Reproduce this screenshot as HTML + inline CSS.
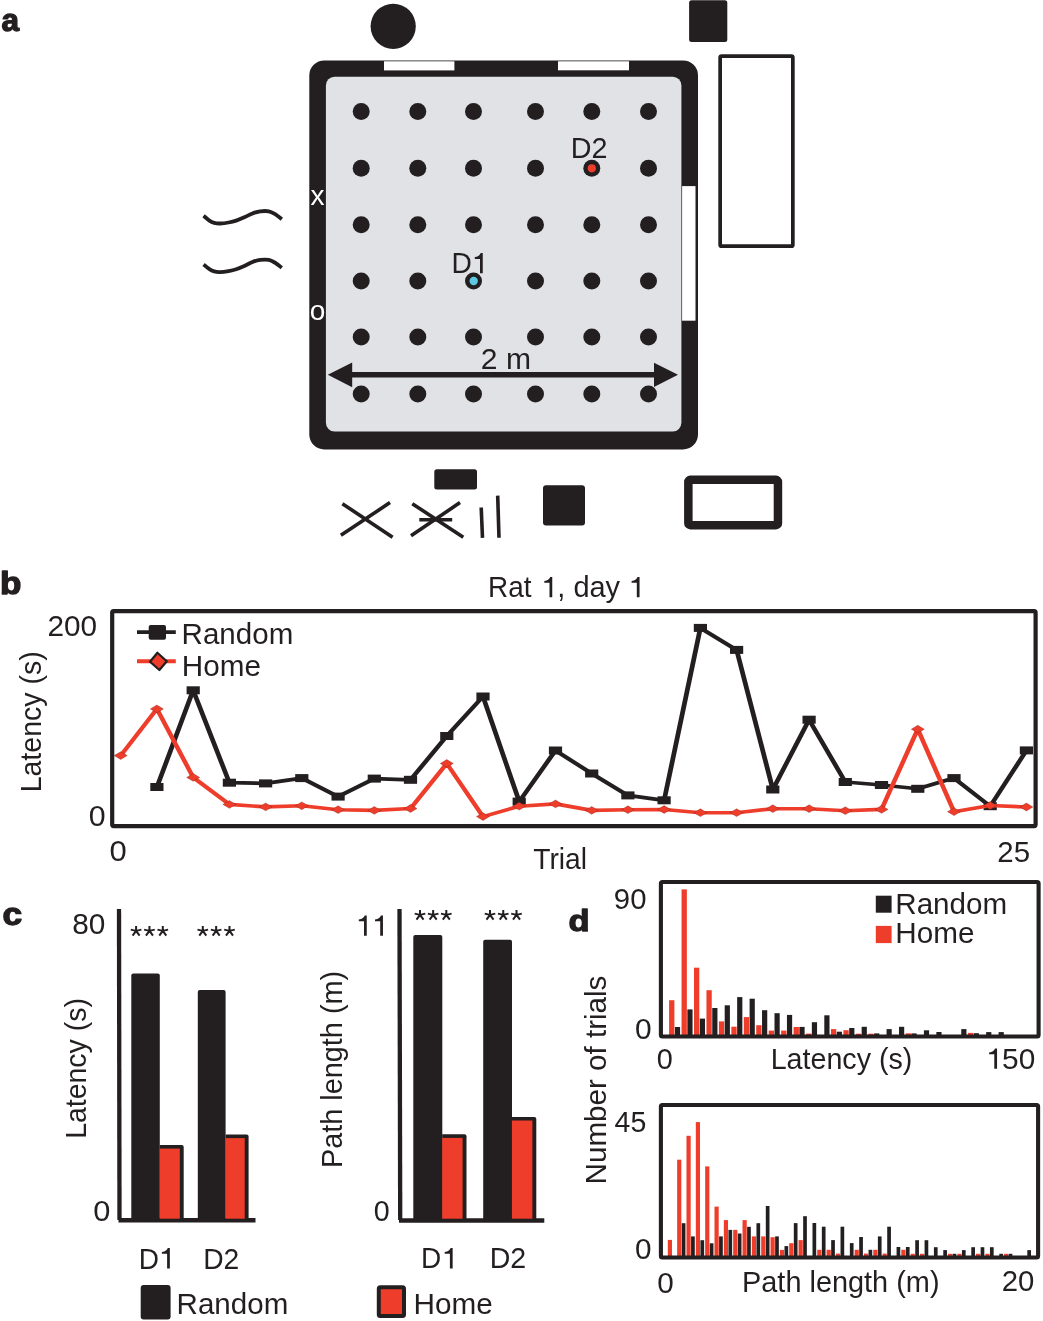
<!DOCTYPE html>
<html><head><meta charset="utf-8"><title>Figure</title>
<style>html,body{margin:0;padding:0;background:#fff;overflow:hidden;}svg{display:block;will-change:transform;}</style></head>
<body><svg width="1043" height="1321" viewBox="0 0 1043 1321" font-family="'Liberation Sans', sans-serif">
<rect width="1043" height="1321" fill="#fff"/>
<text transform="translate(1.40,30.64) scale(1.0282,1)" font-size="30.68" font-weight="bold" fill="#231f20" stroke="#231f20" stroke-width="1.3" stroke-linejoin="round">a</text>
<circle cx="393.2" cy="26.3" r="22.6" fill="#231f20"/>
<rect x="689.1" y="0.3" width="38.2" height="41.8" rx="2.5" fill="#231f20"/>
<rect x="309.3" y="60.4" width="388.7" height="389" rx="15" fill="#231f20"/>
<rect x="325.9" y="76.8" width="355.5" height="354.6" rx="8.6" fill="#e1e2e6"/>
<rect x="384" y="61.3" width="70.4" height="9.1" fill="#fff"/>
<rect x="558" y="61.3" width="71" height="9" fill="#fff"/>
<rect x="682.1" y="186.1" width="13.4" height="134.6" fill="#fff"/>
<circle cx="361.2" cy="111.5" r="8.5" fill="#231f20"/>
<circle cx="417.8" cy="111.5" r="8.5" fill="#231f20"/>
<circle cx="473.5" cy="111.5" r="8.5" fill="#231f20"/>
<circle cx="535.5" cy="111.5" r="8.5" fill="#231f20"/>
<circle cx="591.8" cy="111.5" r="8.5" fill="#231f20"/>
<circle cx="648.5" cy="111.5" r="8.5" fill="#231f20"/>
<circle cx="361.2" cy="168.2" r="8.5" fill="#231f20"/>
<circle cx="417.8" cy="168.2" r="8.5" fill="#231f20"/>
<circle cx="473.5" cy="168.2" r="8.5" fill="#231f20"/>
<circle cx="535.5" cy="168.2" r="8.5" fill="#231f20"/>
<circle cx="591.8" cy="168.2" r="8.5" fill="#231f20"/>
<circle cx="648.5" cy="168.2" r="8.5" fill="#231f20"/>
<circle cx="361.2" cy="224.8" r="8.5" fill="#231f20"/>
<circle cx="417.8" cy="224.8" r="8.5" fill="#231f20"/>
<circle cx="473.5" cy="224.8" r="8.5" fill="#231f20"/>
<circle cx="535.5" cy="224.8" r="8.5" fill="#231f20"/>
<circle cx="591.8" cy="224.8" r="8.5" fill="#231f20"/>
<circle cx="648.5" cy="224.8" r="8.5" fill="#231f20"/>
<circle cx="361.2" cy="280.9" r="8.5" fill="#231f20"/>
<circle cx="417.8" cy="280.9" r="8.5" fill="#231f20"/>
<circle cx="473.5" cy="280.9" r="8.5" fill="#231f20"/>
<circle cx="535.5" cy="280.9" r="8.5" fill="#231f20"/>
<circle cx="591.8" cy="280.9" r="8.5" fill="#231f20"/>
<circle cx="648.5" cy="280.9" r="8.5" fill="#231f20"/>
<circle cx="361.2" cy="337.0" r="8.5" fill="#231f20"/>
<circle cx="417.8" cy="337.0" r="8.5" fill="#231f20"/>
<circle cx="473.5" cy="337.0" r="8.5" fill="#231f20"/>
<circle cx="535.5" cy="337.0" r="8.5" fill="#231f20"/>
<circle cx="591.8" cy="337.0" r="8.5" fill="#231f20"/>
<circle cx="648.5" cy="337.0" r="8.5" fill="#231f20"/>
<circle cx="361.2" cy="393.9" r="8.5" fill="#231f20"/>
<circle cx="417.8" cy="393.9" r="8.5" fill="#231f20"/>
<circle cx="473.5" cy="393.9" r="8.5" fill="#231f20"/>
<circle cx="535.5" cy="393.9" r="8.5" fill="#231f20"/>
<circle cx="591.8" cy="393.9" r="8.5" fill="#231f20"/>
<circle cx="648.5" cy="393.9" r="8.5" fill="#231f20"/>
<circle cx="473.7" cy="281" r="4.2" fill="#5cc8e3"/>
<circle cx="591.8" cy="168.3" r="4.1" fill="#ee3d2a"/>
<text transform="translate(451.47,273.30) scale(0.9458,1)" font-size="29.8" fill="#231f20">D</text>
<path d="M482.75,273.20 L482.75,253.10 L480.70,253.10 C480.20,254.60 478.40,256.60 474.80,257.10 L474.80,259.00 L480.00,259.00 L480.00,273.20 Z" fill="#231f20"/>
<text transform="translate(570.73,158.40) scale(0.9642,1)" font-size="29.8" fill="#231f20">D2</text>
<text x="317.6" y="204.5" font-size="28" text-anchor="middle" fill="#fff">x</text>
<text x="317.6" y="320" font-size="28" text-anchor="middle" fill="#fff">o</text>
<text transform="translate(480.80,368.80) scale(1.0094,1)" font-size="29.8" fill="#231f20">2 m</text>
<line x1="345" y1="374.8" x2="660" y2="374.8" stroke="#231f20" stroke-width="5.4"/>
<polygon points="327.8,374.8 352.2,362.4 352.2,387.2" fill="#231f20"/>
<polygon points="678,374.8 654,362.8 654,387" fill="#231f20"/>
<path d="M203.6,215.8 C204.6,216.6 207.6,219.4 209.4,220.6 C211.2,221.8 212.4,222.3 214.2,222.8 C215.9,223.3 217.5,223.6 219.9,223.5 C222.3,223.4 225.9,223.0 228.6,222.5 C231.3,222.0 233.5,221.5 236.2,220.6 C238.9,219.7 242.2,218.3 244.9,217.1 C247.6,215.9 249.9,214.4 252.5,213.4 C255.1,212.4 257.5,211.7 260.2,211.3 C262.9,211.0 266.2,210.8 268.8,211.3 C271.4,211.8 273.3,213.1 275.5,214.4 C277.7,215.7 280.8,218.4 281.8,219.2" fill="none" stroke="#231f20" stroke-width="3.8"/>
<path d="M203.6,264.4 C204.6,265.2 207.6,268.0 209.4,269.2 C211.2,270.4 212.4,270.9 214.2,271.4 C215.9,271.9 217.5,272.2 219.9,272.1 C222.3,272.1 225.9,271.6 228.6,271.1 C231.3,270.6 233.5,270.1 236.2,269.2 C238.9,268.3 242.2,266.9 244.9,265.7 C247.6,264.5 249.9,263.0 252.5,262.0 C255.1,261.0 257.5,260.2 260.2,259.9 C262.9,259.6 266.2,259.4 268.8,259.9 C271.4,260.4 273.3,261.7 275.5,263.0 C277.7,264.3 280.8,267.0 281.8,267.8" fill="none" stroke="#231f20" stroke-width="3.8"/>
<rect x="720.15" y="56.05" width="72.7" height="190.1" rx="1.5" fill="none" stroke="#231f20" stroke-width="3.7"/>
<rect x="434.3" y="469.2" width="42.7" height="20.2" rx="2.5" fill="#231f20"/>
<rect x="543" y="485.3" width="42" height="40.1" rx="3" fill="#231f20"/>
<rect x="688.35" y="479.85" width="89.6" height="45.3" rx="2" fill="none" stroke="#231f20" stroke-width="8.5"/>
<line x1="342.4" y1="503.7" x2="392.6" y2="537.3" stroke="#231f20" stroke-width="3.6"/>
<line x1="390" y1="502.6" x2="340.9" y2="535.2" stroke="#231f20" stroke-width="3.6"/>
<line x1="412.3" y1="503.7" x2="463.3" y2="537.3" stroke="#231f20" stroke-width="3.6"/>
<line x1="460" y1="502.6" x2="411" y2="535.8" stroke="#231f20" stroke-width="3.6"/>
<line x1="419.3" y1="519.7" x2="452.2" y2="519.7" stroke="#231f20" stroke-width="3.6"/>
<line x1="481.2" y1="507.5" x2="482.5" y2="537.8" stroke="#231f20" stroke-width="3.6"/>
<line x1="497.7" y1="495.6" x2="499" y2="537.8" stroke="#231f20" stroke-width="3.6"/>
<text transform="translate(0.07,593.54) scale(1.1201,1)" font-size="31.29" font-weight="bold" fill="#231f20" stroke="#231f20" stroke-width="1.3" stroke-linejoin="round">b</text>
<text transform="translate(488.10,597.30) scale(0.9368,1)" font-size="29.8" fill="#231f20">Rat</text>
<path d="M552.25,597.30 L552.25,576.90 L550.20,576.90 C549.70,578.40 547.90,580.40 544.30,580.90 L544.30,582.80 L549.50,582.80 L549.50,597.30 Z" fill="#231f20"/>
<text transform="translate(557.29,597.30) scale(0.9719,1)" font-size="29.8" fill="#231f20">, day</text>
<path d="M639.55,597.30 L639.55,576.90 L637.50,576.90 C637.00,578.40 635.20,580.40 631.60,580.90 L631.60,582.80 L636.80,582.80 L636.80,597.30 Z" fill="#231f20"/>
<rect x="112.2" y="611.2" width="923.4" height="214.9" rx="1.5" fill="none" stroke="#231f20" stroke-width="4.2"/>
<text transform="translate(47.51,635.70) scale(0.9982,1)" font-size="29.8" fill="#231f20">200</text>
<text transform="translate(88.79,825.70) scale(1.0190,1)" font-size="29.8" fill="#231f20">0</text>
<text transform="translate(109.56,860.70) scale(1.0401,1)" font-size="29.8" fill="#231f20">0</text>
<text transform="translate(997.28,861.70) scale(0.9870,1)" font-size="29.8" fill="#231f20">25</text>
<text transform="translate(533.26,868.60) scale(0.9472,1)" font-size="29.8" fill="#231f20">Trial</text>
<text transform="translate(40.80,792.35) rotate(-90) scale(0.9571,1)" font-size="29.8" fill="#231f20">Latency (s)</text>
<polyline transform="scale(1.27,1)" points="123.57,787 152.09,690.3 180.62,782.7 209.15,783.4 237.68,778.1 266.20,796.6 294.73,778.6 323.26,779.8 351.79,736 380.31,696.5 408.84,801.6 437.37,750.5 465.90,773.5 494.43,795.4 522.95,800.3 551.48,627.9 580.01,649.9 608.54,789.5 637.06,719.7 665.59,782 694.12,785 722.65,788.75 751.17,778.1 779.70,806.25 808.23,750.4" fill="none" stroke="#231f20" stroke-width="3.75" stroke-linejoin="round"/>
<rect x="150.3" y="783.0" width="13.2" height="8" fill="#231f20"/>
<rect x="186.6" y="686.3" width="13.2" height="8" fill="#231f20"/>
<rect x="222.8" y="778.7" width="13.2" height="8" fill="#231f20"/>
<rect x="259.0" y="779.4" width="13.2" height="8" fill="#231f20"/>
<rect x="295.2" y="774.1" width="13.2" height="8" fill="#231f20"/>
<rect x="331.5" y="792.6" width="13.2" height="8" fill="#231f20"/>
<rect x="367.7" y="774.6" width="13.2" height="8" fill="#231f20"/>
<rect x="403.9" y="775.8" width="13.2" height="8" fill="#231f20"/>
<rect x="440.2" y="732.0" width="13.2" height="8" fill="#231f20"/>
<rect x="476.4" y="692.5" width="13.2" height="8" fill="#231f20"/>
<rect x="512.6" y="797.6" width="13.2" height="8" fill="#231f20"/>
<rect x="548.9" y="746.5" width="13.2" height="8" fill="#231f20"/>
<rect x="585.1" y="769.5" width="13.2" height="8" fill="#231f20"/>
<rect x="621.3" y="791.4" width="13.2" height="8" fill="#231f20"/>
<rect x="657.5" y="796.3" width="13.2" height="8" fill="#231f20"/>
<rect x="693.8" y="623.9" width="13.2" height="8" fill="#231f20"/>
<rect x="730.0" y="645.9" width="13.2" height="8" fill="#231f20"/>
<rect x="766.2" y="785.5" width="13.2" height="8" fill="#231f20"/>
<rect x="802.5" y="715.7" width="13.2" height="8" fill="#231f20"/>
<rect x="838.7" y="778.0" width="13.2" height="8" fill="#231f20"/>
<rect x="874.9" y="781.0" width="13.2" height="8" fill="#231f20"/>
<rect x="911.2" y="784.8" width="13.2" height="8" fill="#231f20"/>
<rect x="947.4" y="774.1" width="13.2" height="8" fill="#231f20"/>
<rect x="983.6" y="802.2" width="13.2" height="8" fill="#231f20"/>
<rect x="1019.8" y="746.4" width="13.2" height="8" fill="#231f20"/>
<polyline transform="scale(1.27,1)" points="95.04,755.6 123.57,708.9 152.09,777.4 180.62,804.4 209.15,806.9 237.68,805.8 266.20,809.7 294.73,810.4 323.26,808.5 351.79,763.5 380.31,816.6 408.84,806.2 437.37,803.9 465.90,810.4 494.43,809.7 522.95,809.5 551.48,812.7 580.01,812.7 608.54,808.7 637.06,808.7 665.59,810.7 694.12,809.4 722.65,729.2 751.17,811.7 779.70,805.5 808.23,807" fill="none" stroke="#ee3d2a" stroke-width="3.65" stroke-linejoin="round"/>
<polygon points="114.2,755.6 120.7,751.7 127.2,755.6 120.7,759.5" fill="#ee3d2a" stroke="#7a1c14" stroke-width="0.5" stroke-opacity="0.7"/>
<polygon points="150.4,708.9 156.9,705.0 163.4,708.9 156.9,712.8" fill="#ee3d2a" stroke="#7a1c14" stroke-width="0.5" stroke-opacity="0.7"/>
<polygon points="186.7,777.4 193.2,773.5 199.7,777.4 193.2,781.3" fill="#ee3d2a" stroke="#7a1c14" stroke-width="0.5" stroke-opacity="0.7"/>
<polygon points="222.9,804.4 229.4,800.5 235.9,804.4 229.4,808.3" fill="#ee3d2a" stroke="#7a1c14" stroke-width="0.5" stroke-opacity="0.7"/>
<polygon points="259.1,806.9 265.6,803.0 272.1,806.9 265.6,810.8" fill="#ee3d2a" stroke="#7a1c14" stroke-width="0.5" stroke-opacity="0.7"/>
<polygon points="295.3,805.8 301.8,801.9 308.3,805.8 301.8,809.6999999999999" fill="#ee3d2a" stroke="#7a1c14" stroke-width="0.5" stroke-opacity="0.7"/>
<polygon points="331.6,809.7 338.1,805.8000000000001 344.6,809.7 338.1,813.6" fill="#ee3d2a" stroke="#7a1c14" stroke-width="0.5" stroke-opacity="0.7"/>
<polygon points="367.8,810.4 374.3,806.5 380.8,810.4 374.3,814.3" fill="#ee3d2a" stroke="#7a1c14" stroke-width="0.5" stroke-opacity="0.7"/>
<polygon points="404.0,808.5 410.5,804.6 417.0,808.5 410.5,812.4" fill="#ee3d2a" stroke="#7a1c14" stroke-width="0.5" stroke-opacity="0.7"/>
<polygon points="440.3,763.5 446.8,759.6 453.3,763.5 446.8,767.4" fill="#ee3d2a" stroke="#7a1c14" stroke-width="0.5" stroke-opacity="0.7"/>
<polygon points="476.5,816.6 483.0,812.7 489.5,816.6 483.0,820.5" fill="#ee3d2a" stroke="#7a1c14" stroke-width="0.5" stroke-opacity="0.7"/>
<polygon points="512.7,806.2 519.2,802.3000000000001 525.7,806.2 519.2,810.1" fill="#ee3d2a" stroke="#7a1c14" stroke-width="0.5" stroke-opacity="0.7"/>
<polygon points="549.0,803.9 555.5,800.0 562.0,803.9 555.5,807.8" fill="#ee3d2a" stroke="#7a1c14" stroke-width="0.5" stroke-opacity="0.7"/>
<polygon points="585.2,810.4 591.7,806.5 598.2,810.4 591.7,814.3" fill="#ee3d2a" stroke="#7a1c14" stroke-width="0.5" stroke-opacity="0.7"/>
<polygon points="621.4,809.7 627.9,805.8000000000001 634.4,809.7 627.9,813.6" fill="#ee3d2a" stroke="#7a1c14" stroke-width="0.5" stroke-opacity="0.7"/>
<polygon points="657.6,809.5 664.1,805.6 670.6,809.5 664.1,813.4" fill="#ee3d2a" stroke="#7a1c14" stroke-width="0.5" stroke-opacity="0.7"/>
<polygon points="693.9,812.7 700.4,808.8000000000001 706.9,812.7 700.4,816.6" fill="#ee3d2a" stroke="#7a1c14" stroke-width="0.5" stroke-opacity="0.7"/>
<polygon points="730.1,812.7 736.6,808.8000000000001 743.1,812.7 736.6,816.6" fill="#ee3d2a" stroke="#7a1c14" stroke-width="0.5" stroke-opacity="0.7"/>
<polygon points="766.3,808.7 772.8,804.8000000000001 779.3,808.7 772.8,812.6" fill="#ee3d2a" stroke="#7a1c14" stroke-width="0.5" stroke-opacity="0.7"/>
<polygon points="802.6,808.7 809.1,804.8000000000001 815.6,808.7 809.1,812.6" fill="#ee3d2a" stroke="#7a1c14" stroke-width="0.5" stroke-opacity="0.7"/>
<polygon points="838.8,810.7 845.3,806.8000000000001 851.8,810.7 845.3,814.6" fill="#ee3d2a" stroke="#7a1c14" stroke-width="0.5" stroke-opacity="0.7"/>
<polygon points="875.0,809.4 881.5,805.5 888.0,809.4 881.5,813.3" fill="#ee3d2a" stroke="#7a1c14" stroke-width="0.5" stroke-opacity="0.7"/>
<polygon points="911.3,729.2 917.8,725.3000000000001 924.3,729.2 917.8,733.1" fill="#ee3d2a" stroke="#7a1c14" stroke-width="0.5" stroke-opacity="0.7"/>
<polygon points="947.5,811.7 954.0,807.8000000000001 960.5,811.7 954.0,815.6" fill="#ee3d2a" stroke="#7a1c14" stroke-width="0.5" stroke-opacity="0.7"/>
<polygon points="983.7,805.5 990.2,801.6 996.7,805.5 990.2,809.4" fill="#ee3d2a" stroke="#7a1c14" stroke-width="0.5" stroke-opacity="0.7"/>
<polygon points="1019.9,807 1026.4,803.1 1032.9,807 1026.4,810.9" fill="#ee3d2a" stroke="#7a1c14" stroke-width="0.5" stroke-opacity="0.7"/>
<line x1="137" y1="632.2" x2="175.8" y2="632.2" stroke="#231f20" stroke-width="3.8"/>
<rect x="148.7" y="625" width="17.3" height="14.7" rx="2" fill="#231f20"/>
<line x1="137" y1="661.3" x2="175.8" y2="661.3" stroke="#ee3d2a" stroke-width="4.1"/>
<polygon points="157.4,652.7 166.8,661.3 159.4,670 150,661.7" fill="#ee3d2a" stroke="#231f20" stroke-width="2.2" stroke-linejoin="round"/>
<text transform="translate(181.56,644.40) scale(0.9922,1)" font-size="29.8" fill="#231f20">Random</text>
<text transform="translate(181.85,676.20) scale(0.9965,1)" font-size="29.8" fill="#231f20">Home</text>
<text transform="translate(2.44,925.04) scale(1.1498,1)" font-size="30.68" font-weight="bold" fill="#231f20" stroke="#231f20" stroke-width="1.3" stroke-linejoin="round">c</text>
<line x1="119" y1="909" x2="119.5" y2="1220" stroke="#231f20" stroke-width="4.3"/>
<line x1="118.5" y1="1220.2" x2="255.5" y2="1220.2" stroke="#231f20" stroke-width="4.5"/>
<rect x="131.3" y="973.4" width="28.5" height="247" rx="2" fill="#231f20"/>
<path d="M159.8,1219 L159.8,1145 L181.7,1145 Q183.7,1145 183.7,1147 L183.7,1219 Z" fill="#231f20"/>
<rect x="159.8" y="1148.60" width="20.00" height="70.10" fill="#ee3d2a"/>
<rect x="197.8" y="990.1" width="27.8" height="230" rx="2" fill="#231f20"/>
<path d="M225.6,1219 L225.6,1134.5 L246.6,1134.5 Q248.6,1134.5 248.6,1136.5 L248.6,1219 Z" fill="#231f20"/>
<rect x="225.6" y="1138.10" width="19.10" height="80.60" fill="#ee3d2a"/>
<path d="M136.10,930.90 L136.10,926.00 M136.10,930.90 L141.40,929.60 M136.10,930.90 L139.60,935.70 M136.10,930.90 L132.60,935.70 M136.10,930.90 L130.80,929.60 " stroke="#231f20" stroke-width="2.0" stroke-linecap="butt" fill="none"/>
<path d="M149.45,930.90 L149.45,926.00 M149.45,930.90 L154.75,929.60 M149.45,930.90 L152.95,935.70 M149.45,930.90 L145.95,935.70 M149.45,930.90 L144.15,929.60 " stroke="#231f20" stroke-width="2.0" stroke-linecap="butt" fill="none"/>
<path d="M162.80,930.90 L162.80,926.00 M162.80,930.90 L168.10,929.60 M162.80,930.90 L166.30,935.70 M162.80,930.90 L159.30,935.70 M162.80,930.90 L157.50,929.60 " stroke="#231f20" stroke-width="2.0" stroke-linecap="butt" fill="none"/>
<path d="M202.80,930.90 L202.80,926.00 M202.80,930.90 L208.10,929.60 M202.80,930.90 L206.30,935.70 M202.80,930.90 L199.30,935.70 M202.80,930.90 L197.50,929.60 " stroke="#231f20" stroke-width="2.0" stroke-linecap="butt" fill="none"/>
<path d="M216.15,930.90 L216.15,926.00 M216.15,930.90 L221.45,929.60 M216.15,930.90 L219.65,935.70 M216.15,930.90 L212.65,935.70 M216.15,930.90 L210.85,929.60 " stroke="#231f20" stroke-width="2.0" stroke-linecap="butt" fill="none"/>
<path d="M229.50,930.90 L229.50,926.00 M229.50,930.90 L234.80,929.60 M229.50,930.90 L233.00,935.70 M229.50,930.90 L226.00,935.70 M229.50,930.90 L224.20,929.60 " stroke="#231f20" stroke-width="2.0" stroke-linecap="butt" fill="none"/>
<text transform="translate(72.13,934.40) scale(1.0002,1)" font-size="29.8" fill="#231f20">80</text>
<text transform="translate(93.17,1220.80) scale(1.0331,1)" font-size="29.8" fill="#231f20">0</text>
<text transform="translate(138.79,1268.50) scale(0.9402,1)" font-size="29.8" fill="#231f20">D</text>
<path d="M169.85,1268.40 L169.85,1247.90 L167.80,1247.90 C167.30,1249.40 165.50,1251.40 161.90,1251.90 L161.90,1253.80 L167.10,1253.80 L167.10,1268.40 Z" fill="#231f20"/>
<text transform="translate(203.17,1268.50) scale(0.9466,1)" font-size="29.8" fill="#231f20">D2</text>
<text transform="translate(85.90,1138.85) rotate(-90) scale(0.9550,1)" font-size="29.8" fill="#231f20">Latency (s)</text>
<rect x="140.7" y="1285" width="29.9" height="34.6" rx="3" fill="#231f20"/>
<text transform="translate(176.56,1314.10) scale(0.9922,1)" font-size="29.8" fill="#231f20">Random</text>
<line x1="399.5" y1="909" x2="400.2" y2="1220" stroke="#231f20" stroke-width="4.3"/>
<line x1="399" y1="1220.4" x2="544.3" y2="1220.4" stroke="#231f20" stroke-width="4.5"/>
<rect x="413.3" y="935.1" width="29" height="285" rx="2" fill="#231f20"/>
<path d="M442.2,1219 L442.2,1134.3 L464.5,1134.3 Q466.5,1134.3 466.5,1136.3 L466.5,1219 Z" fill="#231f20"/>
<rect x="442.2" y="1137.90" width="20.40" height="80.80" fill="#ee3d2a"/>
<rect x="483.2" y="939.7" width="28.8" height="281" rx="2" fill="#231f20"/>
<path d="M511.9,1219 L511.9,1116.9 L534.3,1116.9 Q536.3,1116.9 536.3,1118.9 L536.3,1219 Z" fill="#231f20"/>
<rect x="511.9" y="1120.50" width="20.50" height="98.20" fill="#ee3d2a"/>
<path d="M420.00,914.90 L420.00,910.00 M420.00,914.90 L425.30,913.60 M420.00,914.90 L423.50,919.70 M420.00,914.90 L416.50,919.70 M420.00,914.90 L414.70,913.60 " stroke="#231f20" stroke-width="2.0" stroke-linecap="butt" fill="none"/>
<path d="M433.15,914.90 L433.15,910.00 M433.15,914.90 L438.45,913.60 M433.15,914.90 L436.65,919.70 M433.15,914.90 L429.65,919.70 M433.15,914.90 L427.85,913.60 " stroke="#231f20" stroke-width="2.0" stroke-linecap="butt" fill="none"/>
<path d="M446.30,914.90 L446.30,910.00 M446.30,914.90 L451.60,913.60 M446.30,914.90 L449.80,919.70 M446.30,914.90 L442.80,919.70 M446.30,914.90 L441.00,913.60 " stroke="#231f20" stroke-width="2.0" stroke-linecap="butt" fill="none"/>
<path d="M490.00,914.90 L490.00,910.00 M490.00,914.90 L495.30,913.60 M490.00,914.90 L493.50,919.70 M490.00,914.90 L486.50,919.70 M490.00,914.90 L484.70,913.60 " stroke="#231f20" stroke-width="2.0" stroke-linecap="butt" fill="none"/>
<path d="M503.25,914.90 L503.25,910.00 M503.25,914.90 L508.55,913.60 M503.25,914.90 L506.75,919.70 M503.25,914.90 L499.75,919.70 M503.25,914.90 L497.95,913.60 " stroke="#231f20" stroke-width="2.0" stroke-linecap="butt" fill="none"/>
<path d="M516.50,914.90 L516.50,910.00 M516.50,914.90 L521.80,913.60 M516.50,914.90 L520.00,919.70 M516.50,914.90 L513.00,919.70 M516.50,914.90 L511.20,913.60 " stroke="#231f20" stroke-width="2.0" stroke-linecap="butt" fill="none"/>
<path d="M366.75,935.80 L366.75,915.40 L364.70,915.40 C364.20,916.90 362.40,918.90 358.80,919.40 L358.80,921.30 L364.00,921.30 L364.00,935.80 Z" fill="#231f20"/>
<path d="M382.95,935.80 L382.95,915.40 L380.90,915.40 C380.40,916.90 378.60,918.90 375.00,919.40 L375.00,921.30 L380.20,921.30 L380.20,935.80 Z" fill="#231f20"/>
<text transform="translate(373.65,1221.30) scale(0.9628,1)" font-size="29.8" fill="#231f20">0</text>
<text transform="translate(421.09,1268.20) scale(0.9402,1)" font-size="29.8" fill="#231f20">D</text>
<path d="M452.65,1268.40 L452.65,1247.90 L450.60,1247.90 C450.10,1249.40 448.30,1251.40 444.70,1251.90 L444.70,1253.80 L449.90,1253.80 L449.90,1268.40 Z" fill="#231f20"/>
<text transform="translate(489.64,1268.40) scale(0.9584,1)" font-size="29.8" fill="#231f20">D2</text>
<text transform="translate(342.20,1168.08) rotate(-90) scale(0.9686,1)" font-size="29.8" fill="#231f20">Path length (m)</text>
<rect x="378.8" y="1287.2" width="25.2" height="28.8" fill="#ee3d2a" stroke="#231f20" stroke-width="4" rx="1.5"/>
<text transform="translate(413.45,1314.00) scale(0.9978,1)" font-size="29.8" fill="#231f20">Home</text>
<text transform="translate(568.47,930.95) scale(1.1356,1)" font-size="30.34" font-weight="bold" fill="#231f20" stroke="#231f20" stroke-width="1.3" stroke-linejoin="round">d</text>
<rect x="669.10" y="1000.2" width="5.3" height="35.8" fill="#ee3d2a"/>
<rect x="674.90" y="1027" width="5.2" height="9.0" fill="#231f20"/>
<rect x="681.55" y="889.4" width="5.3" height="146.6" fill="#ee3d2a"/>
<rect x="687.35" y="1009.4" width="5.2" height="26.6" fill="#231f20"/>
<rect x="694.00" y="967.7" width="5.3" height="68.3" fill="#ee3d2a"/>
<rect x="699.80" y="1018.6" width="5.2" height="17.4" fill="#231f20"/>
<rect x="706.45" y="990.2" width="5.3" height="45.8" fill="#ee3d2a"/>
<rect x="712.25" y="1008" width="5.2" height="28.0" fill="#231f20"/>
<rect x="718.90" y="1021.4" width="5.3" height="14.6" fill="#ee3d2a"/>
<rect x="724.70" y="1005.3" width="5.2" height="30.7" fill="#231f20"/>
<rect x="731.35" y="1026.7" width="5.3" height="9.3" fill="#ee3d2a"/>
<rect x="737.15" y="997.1" width="5.2" height="38.9" fill="#231f20"/>
<rect x="743.80" y="1017.1" width="5.3" height="18.9" fill="#ee3d2a"/>
<rect x="749.60" y="998.7" width="5.2" height="37.3" fill="#231f20"/>
<rect x="756.25" y="1025.2" width="5.3" height="10.8" fill="#ee3d2a"/>
<rect x="762.05" y="1010.2" width="5.2" height="25.8" fill="#231f20"/>
<rect x="768.70" y="1030.6" width="5.3" height="5.4" fill="#ee3d2a"/>
<rect x="774.50" y="1013.2" width="5.2" height="22.8" fill="#231f20"/>
<rect x="781.15" y="1030.6" width="5.3" height="5.4" fill="#ee3d2a"/>
<rect x="786.95" y="1014.9" width="5.2" height="21.1" fill="#231f20"/>
<rect x="793.60" y="1027" width="5.3" height="9.0" fill="#ee3d2a"/>
<rect x="799.40" y="1026.9" width="5.2" height="9.1" fill="#231f20"/>
<rect x="806.05" y="1033.6" width="5.3" height="2.4" fill="#ee3d2a"/>
<rect x="811.85" y="1022.2" width="5.2" height="13.8" fill="#231f20"/>
<rect x="824.30" y="1015.3" width="5.2" height="20.7" fill="#231f20"/>
<rect x="830.95" y="1029.1" width="5.3" height="6.9" fill="#ee3d2a"/>
<rect x="836.75" y="1031.7" width="5.2" height="4.3" fill="#231f20"/>
<rect x="843.40" y="1030.2" width="5.3" height="5.8" fill="#ee3d2a"/>
<rect x="849.20" y="1028" width="5.2" height="8.0" fill="#231f20"/>
<rect x="855.85" y="1033.7" width="5.3" height="2.3" fill="#ee3d2a"/>
<rect x="861.65" y="1026.8" width="5.2" height="9.2" fill="#231f20"/>
<rect x="868.30" y="1033.7" width="5.3" height="2.3" fill="#ee3d2a"/>
<rect x="874.10" y="1033.4" width="5.2" height="2.6" fill="#231f20"/>
<rect x="886.55" y="1029.1" width="5.2" height="6.9" fill="#231f20"/>
<rect x="899.00" y="1026.8" width="5.2" height="9.2" fill="#231f20"/>
<rect x="905.65" y="1033.3" width="5.3" height="2.7" fill="#ee3d2a"/>
<rect x="911.45" y="1033.4" width="5.2" height="2.6" fill="#231f20"/>
<rect x="923.90" y="1030.3" width="5.2" height="5.7" fill="#231f20"/>
<rect x="936.35" y="1032" width="5.2" height="4.0" fill="#231f20"/>
<rect x="961.25" y="1029.1" width="5.2" height="6.9" fill="#231f20"/>
<rect x="967.90" y="1032.9" width="5.3" height="3.1" fill="#ee3d2a"/>
<rect x="973.70" y="1033.2" width="5.2" height="2.8" fill="#231f20"/>
<rect x="986.15" y="1032.1" width="5.2" height="3.9" fill="#231f20"/>
<rect x="998.60" y="1032.1" width="5.2" height="3.9" fill="#231f20"/>
<rect x="660.9" y="882" width="377.7" height="154.5" rx="1.5" fill="none" stroke="#231f20" stroke-width="4.1"/>
<text transform="translate(613.81,909.20) scale(0.9854,1)" font-size="29.8" fill="#231f20">90</text>
<text transform="translate(634.90,1038.50) scale(1.0050,1)" font-size="29.8" fill="#231f20">0</text>
<text transform="translate(656.84,1068.50) scale(0.9698,1)" font-size="29.8" fill="#231f20">0</text>
<text transform="translate(770.63,1069.30) scale(0.9620,1)" font-size="29.8" fill="#231f20">Latency (s)</text>
<path d="M997.05,1068.80 L997.05,1048.40 L995.00,1048.40 C994.50,1049.90 992.70,1051.90 989.10,1052.40 L989.10,1054.30 L994.30,1054.30 L994.30,1068.80 Z" fill="#231f20"/>
<text transform="translate(1002.11,1068.70) scale(1.0010,1)" font-size="29.8" fill="#231f20">50</text>
<rect x="875.8" y="895.7" width="15.8" height="17" fill="#231f20"/>
<rect x="875.8" y="925.9" width="15.8" height="17.2" fill="#ee3d2a"/>
<text transform="translate(895.26,913.60) scale(0.9940,1)" font-size="29.8" fill="#231f20">Random</text>
<text transform="translate(895.25,942.80) scale(0.9965,1)" font-size="29.8" fill="#231f20">Home</text>
<rect x="667.80" y="1239.9" width="4.2" height="17.1" fill="#ee3d2a"/>
<rect x="677.14" y="1159.7" width="4.2" height="97.3" fill="#ee3d2a"/>
<rect x="681.74" y="1223.2" width="3.7" height="33.8" fill="#231f20"/>
<rect x="686.48" y="1135.8" width="4.2" height="121.2" fill="#ee3d2a"/>
<rect x="691.08" y="1236.4" width="3.7" height="20.6" fill="#231f20"/>
<rect x="695.82" y="1122.1" width="4.2" height="134.9" fill="#ee3d2a"/>
<rect x="700.42" y="1240.2" width="3.7" height="16.8" fill="#231f20"/>
<rect x="705.16" y="1166.4" width="4.2" height="90.6" fill="#ee3d2a"/>
<rect x="709.76" y="1243.3" width="3.7" height="13.7" fill="#231f20"/>
<rect x="714.50" y="1206.6" width="4.2" height="50.4" fill="#ee3d2a"/>
<rect x="719.10" y="1236.4" width="3.7" height="20.6" fill="#231f20"/>
<rect x="723.84" y="1220.1" width="4.2" height="36.9" fill="#ee3d2a"/>
<rect x="728.44" y="1229.9" width="3.7" height="27.1" fill="#231f20"/>
<rect x="733.18" y="1229.9" width="4.2" height="27.1" fill="#ee3d2a"/>
<rect x="737.78" y="1233.5" width="3.7" height="23.5" fill="#231f20"/>
<rect x="742.52" y="1220.1" width="4.2" height="36.9" fill="#ee3d2a"/>
<rect x="747.12" y="1226.8" width="3.7" height="30.2" fill="#231f20"/>
<rect x="751.86" y="1236.4" width="4.2" height="20.6" fill="#ee3d2a"/>
<rect x="756.46" y="1223.2" width="3.7" height="33.8" fill="#231f20"/>
<rect x="761.20" y="1236.4" width="4.2" height="20.6" fill="#ee3d2a"/>
<rect x="765.80" y="1206" width="3.7" height="51.0" fill="#231f20"/>
<rect x="770.54" y="1237.2" width="4.2" height="19.8" fill="#ee3d2a"/>
<rect x="775.14" y="1236.4" width="3.7" height="20.6" fill="#231f20"/>
<rect x="779.88" y="1249.9" width="4.2" height="7.1" fill="#ee3d2a"/>
<rect x="784.48" y="1246.1" width="3.7" height="10.9" fill="#231f20"/>
<rect x="789.22" y="1243.2" width="4.2" height="13.8" fill="#ee3d2a"/>
<rect x="793.82" y="1223.1" width="3.7" height="33.9" fill="#231f20"/>
<rect x="798.56" y="1240.1" width="4.2" height="16.9" fill="#ee3d2a"/>
<rect x="803.16" y="1216.2" width="3.7" height="40.8" fill="#231f20"/>
<rect x="812.50" y="1223" width="3.7" height="34.0" fill="#231f20"/>
<rect x="817.24" y="1249.8" width="4.2" height="7.2" fill="#ee3d2a"/>
<rect x="821.84" y="1226.7" width="3.7" height="30.3" fill="#231f20"/>
<rect x="826.58" y="1249.8" width="4.2" height="7.2" fill="#ee3d2a"/>
<rect x="831.18" y="1240.1" width="3.7" height="16.9" fill="#231f20"/>
<rect x="835.92" y="1253.6" width="4.2" height="3.4" fill="#ee3d2a"/>
<rect x="840.52" y="1226.7" width="3.7" height="30.3" fill="#231f20"/>
<rect x="849.86" y="1243.1" width="3.7" height="13.9" fill="#231f20"/>
<rect x="854.60" y="1249.8" width="4.2" height="7.2" fill="#ee3d2a"/>
<rect x="859.20" y="1237" width="3.7" height="20.0" fill="#231f20"/>
<rect x="863.94" y="1253.6" width="4.2" height="3.4" fill="#ee3d2a"/>
<rect x="868.54" y="1249.8" width="3.7" height="7.2" fill="#231f20"/>
<rect x="873.28" y="1249.8" width="4.2" height="7.2" fill="#ee3d2a"/>
<rect x="877.88" y="1236.4" width="3.7" height="20.6" fill="#231f20"/>
<rect x="882.62" y="1253.6" width="4.2" height="3.4" fill="#ee3d2a"/>
<rect x="887.22" y="1226.7" width="3.7" height="30.3" fill="#231f20"/>
<rect x="896.56" y="1247" width="3.7" height="10.0" fill="#231f20"/>
<rect x="901.30" y="1249.8" width="4.2" height="7.2" fill="#ee3d2a"/>
<rect x="905.90" y="1247" width="3.7" height="10.0" fill="#231f20"/>
<rect x="910.64" y="1253.8" width="4.2" height="3.2" fill="#ee3d2a"/>
<rect x="915.24" y="1240.2" width="3.7" height="16.8" fill="#231f20"/>
<rect x="919.98" y="1253.8" width="4.2" height="3.2" fill="#ee3d2a"/>
<rect x="924.58" y="1240.2" width="3.7" height="16.8" fill="#231f20"/>
<rect x="933.92" y="1247.2" width="3.7" height="9.8" fill="#231f20"/>
<rect x="943.26" y="1250.1" width="3.7" height="6.9" fill="#231f20"/>
<rect x="948.00" y="1253.8" width="4.2" height="3.2" fill="#ee3d2a"/>
<rect x="952.60" y="1253.8" width="3.7" height="3.2" fill="#231f20"/>
<rect x="957.34" y="1253.8" width="4.2" height="3.2" fill="#ee3d2a"/>
<rect x="961.94" y="1250.1" width="3.7" height="6.9" fill="#231f20"/>
<rect x="971.28" y="1247.2" width="3.7" height="9.8" fill="#231f20"/>
<rect x="976.02" y="1253.8" width="4.2" height="3.2" fill="#ee3d2a"/>
<rect x="980.62" y="1247.2" width="3.7" height="9.8" fill="#231f20"/>
<rect x="985.36" y="1253.8" width="4.2" height="3.2" fill="#ee3d2a"/>
<rect x="989.96" y="1247.2" width="3.7" height="9.8" fill="#231f20"/>
<rect x="999.30" y="1253.8" width="3.7" height="3.2" fill="#231f20"/>
<rect x="1004.04" y="1253.8" width="4.2" height="3.2" fill="#ee3d2a"/>
<rect x="1008.64" y="1253.8" width="3.7" height="3.2" fill="#231f20"/>
<rect x="1027.32" y="1250.1" width="3.7" height="6.9" fill="#231f20"/>
<rect x="660.9" y="1105" width="377.2" height="152.5" rx="1.5" fill="none" stroke="#231f20" stroke-width="4.1"/>
<text transform="translate(614.56,1131.50) scale(0.9547,1)" font-size="29.8" fill="#231f20">45</text>
<text transform="translate(635.01,1258.90) scale(0.9979,1)" font-size="29.8" fill="#231f20">0</text>
<text transform="translate(657.31,1292.60) scale(0.9979,1)" font-size="29.8" fill="#231f20">0</text>
<text transform="translate(742.02,1291.50) scale(0.9696,1)" font-size="29.8" fill="#231f20">Path length (m)</text>
<text transform="translate(1001.63,1291.20) scale(0.9846,1)" font-size="29.8" fill="#231f20">20</text>
<text transform="translate(606.25,1184.44) rotate(-90) scale(0.9937,1)" font-size="29.8" fill="#231f20">Number of trials</text>
</svg></body></html>
